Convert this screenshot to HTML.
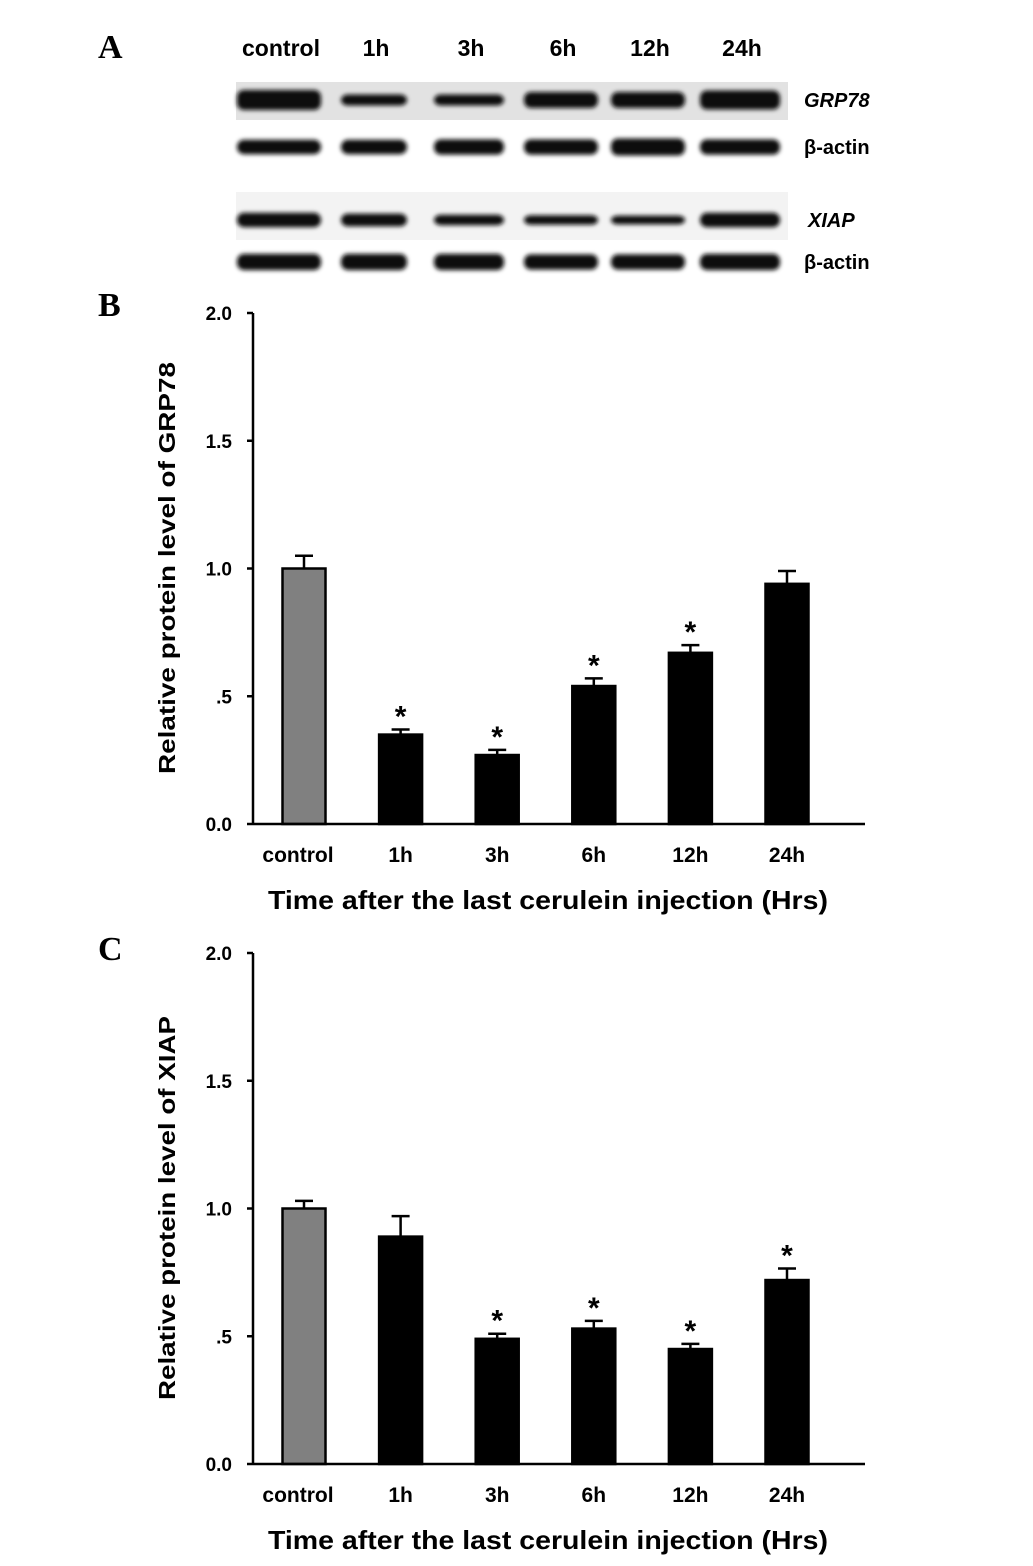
<!DOCTYPE html>
<html><head><meta charset="utf-8"><style>
html,body{margin:0;padding:0;background:#fff;}
svg{display:block;font-family:"Liberation Sans",Arial,sans-serif;}
</style></head><body>
<svg id="fig" width="1033" height="1566" viewBox="0 0 1033 1566">
<defs>
<filter id="blur" x="-10%" y="-50%" width="120%" height="200%"><feGaussianBlur stdDeviation="2"/></filter>
</defs>
<text x="98" y="58" font-family="Liberation Serif" font-weight="bold" font-size="34">A</text>
<text x="98" y="316" font-family="Liberation Serif" font-weight="bold" font-size="34">B</text>
<text x="98" y="960" font-family="Liberation Serif" font-weight="bold" font-size="34">C</text>
<g id="blot"></g>
<g id="chartB"></g>
<g id="chartC"></g>
</svg>
<script>
const categories = ["control","1h","3h","6h","12h","24h"];
const grpValues = [1.0,0.35,0.27,0.54,0.67,0.94];
const grpErrors = [0.05,0.02,0.02,0.03,0.03,0.05];
const grpSig = [false,true,true,true,true,false];
const xiapValues = [1.0,0.89,0.49,0.53,0.45,0.72];
const xiapErrors = [0.03,0.08,0.02,0.03,0.02,0.045];
const xiapSig = [false,false,true,true,true,true];
const yTicks = [0,0.5,1.0,1.5,2.0];
const yTickLabels = ["0.0",".5","1.0","1.5","2.0"];
const blotGrp = [1.0,0.55,0.55,0.8,0.8,0.95];
const blotActin1 = [0.85,0.85,0.9,0.9,1.0,0.9];
const blotXiap = [0.9,0.8,0.65,0.6,0.55,0.9];
const blotActin2 = [0.95,0.95,0.95,0.9,0.9,0.95];

const NS="http://www.w3.org/2000/svg";
function mk(p,t,a){const e=document.createElementNS(NS,t);for(const k in a)e.setAttribute(k,a[k]);p.appendChild(e);return e;}

const blot=document.getElementById('blot');
const laneX=[279,374,469,561,648,740];
const laneW=[84,66,70,74,74,80];
categories.forEach((c,i)=>{const t=mk(blot,'text',{x:laneX[i]+2,y:56,'text-anchor':'middle','font-weight':'bold','font-size':23});t.textContent=c;

});
mk(blot,'rect',{x:236,y:82,width:552,height:38,fill:'#e2e2e2'});
mk(blot,'rect',{x:236,y:192,width:552,height:48,fill:'#f3f3f3'});
function band(vals,y,h){vals.forEach((v,i)=>{const e=mk(blot,'rect',{x:laneX[i]-laneW[i]/2,y:y-h*v/2,width:laneW[i],height:h*v,rx:7,fill:'#111',filter:'url(#blur)'});

});}
band(blotGrp,100,20);band(blotActin1,147,17);band(blotXiap,220,16);band(blotActin2,262,17);
[["GRP78",100,true],["β-actin",147,false],["XIAP",220,true],["β-actin",262,false]].forEach(r=>{const t=mk(blot,'text',{x:r[0]=="XIAP"?808:804,y:r[1]+7,'font-weight':'bold','font-size':20,'font-style':r[2]?'italic':'normal'});t.textContent=r[0];

});

function chart(id,vals,errs,sig,y0,title){
  const g=document.getElementById(id);
  const ax=253,right=865,top=y0-511;
  const y=v=>y0-v*255.5;
  const x=i=>304+i*96.6;
  yTicks.forEach((t,i)=>{mk(g,'line',{x1:ax-6,x2:ax,y1:y(t),y2:y(t),stroke:'#000','stroke-width':2.5});
    const l=mk(g,'text',{x:232,y:y(t)+7,'text-anchor':'end','font-weight':'bold','font-size':19});l.textContent=yTickLabels[i];
    
    });
  vals.forEach((v,i)=>{
    const cx=x(i),w=43;
    const e=errs[i];
    mk(g,'line',{x1:cx,x2:cx,y1:y(v),y2:y(v+e),stroke:'#000','stroke-width':2.5});
    mk(g,'line',{x1:cx-9,x2:cx+9,y1:y(v+e),y2:y(v+e),stroke:'#000','stroke-width':2.5});
    const b=mk(g,'rect',{x:cx-w/2,y:y(v),width:w,height:y0-y(v),fill:i==0?'#808080':'#000',stroke:'#000','stroke-width':2.5});
    
    
    if(sig[i]){const s=mk(g,'text',{x:cx,y:y(v+e)-3,'text-anchor':'middle','font-weight':'bold','font-size':30});s.textContent='*';
      
      }
    const l=mk(g,'text',{x:cx-(i==0?6:0),y:y0+38,'text-anchor':'middle','font-weight':'bold','font-size':21});l.textContent=categories[i];
    
    
  });
  mk(g,'line',{x1:ax,x2:ax,y1:top,y2:y0,stroke:'#000','stroke-width':2.5});
  mk(g,'line',{x1:ax,x2:right,y1:y0,y2:y0,stroke:'#000','stroke-width':2.5});
  const xt=mk(g,'text',{x:548,y:y0+85,'text-anchor':'middle','font-weight':'bold','font-size':26,textLength:560,lengthAdjust:'spacingAndGlyphs'});xt.textContent='Time after the last cerulein injection (Hrs)';
  
  
  const yt=mk(g,'text',{x:0,y:0,'text-anchor':'middle','font-weight':'bold','font-size':23,transform:`translate(175,${y0-256}) rotate(-90)`,textLength:id=='chartB'?412:384,lengthAdjust:'spacingAndGlyphs'});yt.textContent=title;
  
  
}
chart('chartB',grpValues,grpErrors,grpSig,824,'Relative protein level of GRP78');
chart('chartC',xiapValues,xiapErrors,xiapSig,1464,'Relative protein level of XIAP');
</script>
</body></html>
